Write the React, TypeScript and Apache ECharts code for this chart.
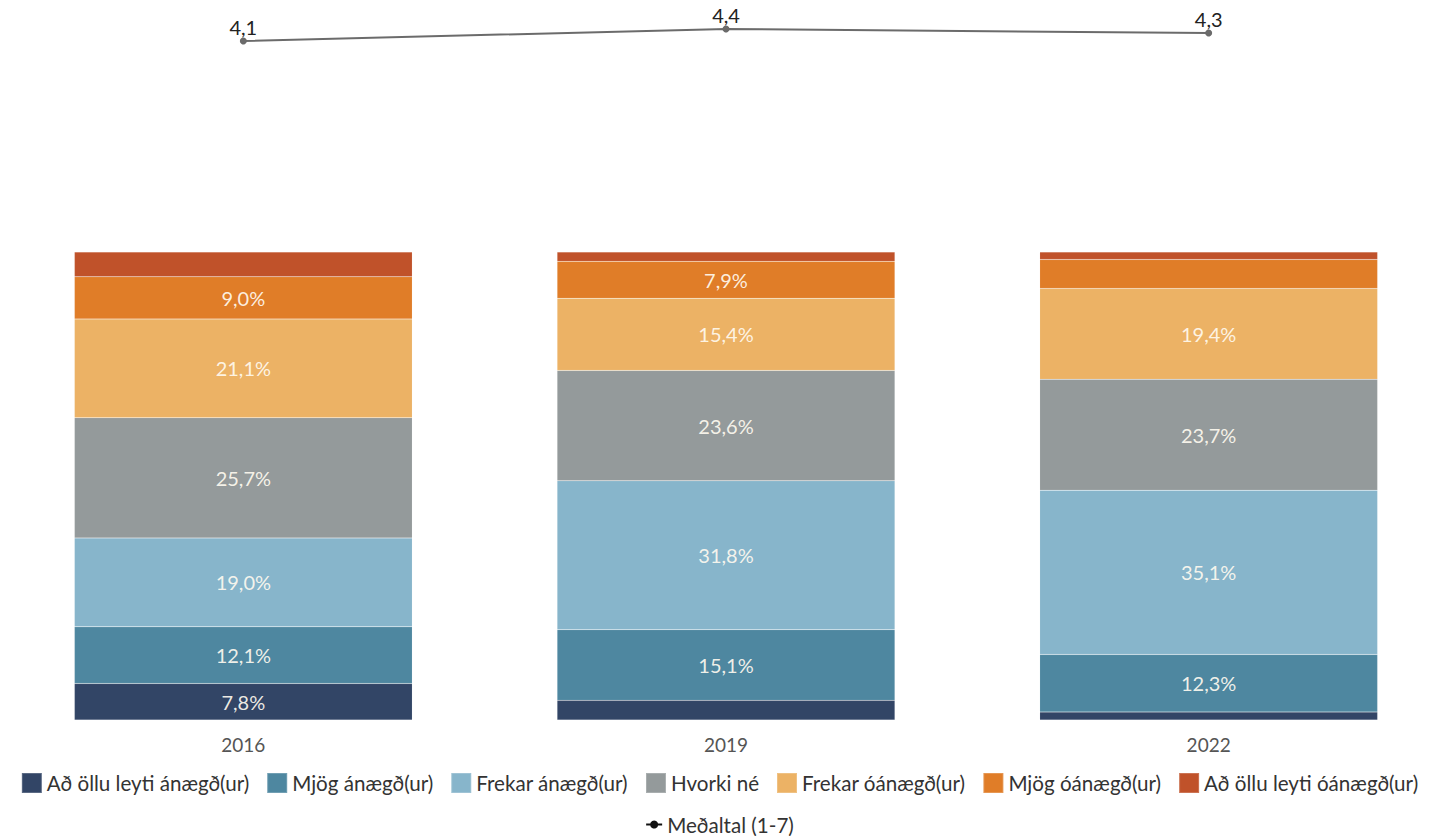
import React, { useEffect, useRef } from "react";
import * as echarts from "echarts";

const years = ["2016", "2019", "2022"];
const seriesNames = [
  "Að öllu leyti ánægð(ur)",
  "Mjög ánægð(ur)",
  "Frekar ánægð(ur)",
  "Hvorki né",
  "Frekar óánægð(ur)",
  "Mjög óánægð(ur)",
  "Að öllu leyti óánægð(ur)",
];
const fullySatisfied = [7.8, 4.2, 1.7];
const verySatisfied = [12.1, 15.1, 12.3];
const ratherSatisfied = [19.0, 31.8, 35.1];
const neither = [25.7, 23.6, 23.7];
const ratherDissatisfied = [21.1, 15.4, 19.4];
const veryDissatisfied = [9.0, 7.9, 6.2];
const fullyDissatisfied = [5.3, 2.0, 1.6];
const meanName = "Meðaltal (1-7)";
const meanValues = [4.1, 4.4, 4.3];

const colors = ["#324566", "#4e87a0", "#87b5cb", "#949a9b", "#ecb265", "#e07d28", "#c0522a"];
const FONT = "'Source Sans Pro', Lato, sans-serif";

export default function App() {
  const ref = useRef<HTMLDivElement>(null);
  useEffect(() => {
    document.body.style.margin = "0";
    const chart = echarts.init(ref.current!, null, { renderer: "svg" });
    const values = [
      fullySatisfied,
      verySatisfied,
      ratherSatisfied,
      neither,
      ratherDissatisfied,
      veryDissatisfied,
      fullyDissatisfied,
    ];
    const bars = values.map((data, i) => ({
      name: seriesNames[i],
      type: "bar",
      stack: "total",
      xAxisIndex: 0,
      yAxisIndex: 0,
      barWidth: "70%",
      data,
      itemStyle: { color: colors[i], borderColor: "rgba(255,255,255,0.2)", borderWidth: 0.5 },
      label: {
        show: true,
        position: "inside",
        fontFamily: FONT,
        fontSize: 20,
        color: "rgba(255,250,240,0.92)",
        formatter: (p: any) =>
          p.value >= 7 ? p.value.toFixed(1).replace(".", ",") + "%" : "",
      },
    }));
    chart.setOption({
      animation: false,
      textStyle: { fontFamily: FONT },
      grid: [
        { left: 2, width: 1448, top: 252, height: 468, outerBoundsMode: "none", containLabel: false },
        { left: 2, width: 1448, top: 5, height: 80, outerBoundsMode: "none", containLabel: false },
      ],
      xAxis: [
        {
          type: "category",
          data: years,
          gridIndex: 0,
          axisLine: { show: false },
          axisTick: { show: false },
          axisLabel: { fontFamily: FONT, fontSize: 19, color: "#555", margin: 15 },
        },
        { type: "category", data: years, gridIndex: 1, show: false },
      ],
      yAxis: [
        { type: "value", gridIndex: 0, min: 0, max: 100, show: false },
        { type: "value", gridIndex: 1, min: 3, max: 5, show: false },
      ],
      legend: [
        {
          data: seriesNames.map((n) => ({ name: n, icon: "rect" })),
          top: 767,
          left: "center",
          itemWidth: 20,
          itemHeight: 20,
          itemGap: 17,
          textStyle: { fontFamily: FONT, fontSize: 20.6, color: "#333" },
        },
        {
          data: [meanName],
          top: 809,
          left: "center",
          itemWidth: 16,
          itemHeight: 10,
          itemStyle: { color: "#111" },
          lineStyle: { color: "#111" },
          textStyle: { fontFamily: FONT, fontSize: 20.6, color: "#333" },
        },
      ],
      series: [
        ...bars,
        {
          name: meanName,
          type: "line",
          xAxisIndex: 1,
          yAxisIndex: 1,
          data: meanValues,
          symbol: "circle",
          symbolSize: 7,
          lineStyle: { color: "#6b6b6b", width: 2 },
          itemStyle: { color: "#6b6b6b" },
          label: {
            show: true,
            position: "top",
            distance: 1,
            fontFamily: FONT,
            fontSize: 20,
            color: "#222",
            formatter: (p: any) => p.value.toFixed(1).replace(".", ","),
          },
        },
      ],
    });
    return () => chart.dispose();
  }, []);
  return <div ref={ref} style={{ width: 1439, height: 836 }} />;
}
